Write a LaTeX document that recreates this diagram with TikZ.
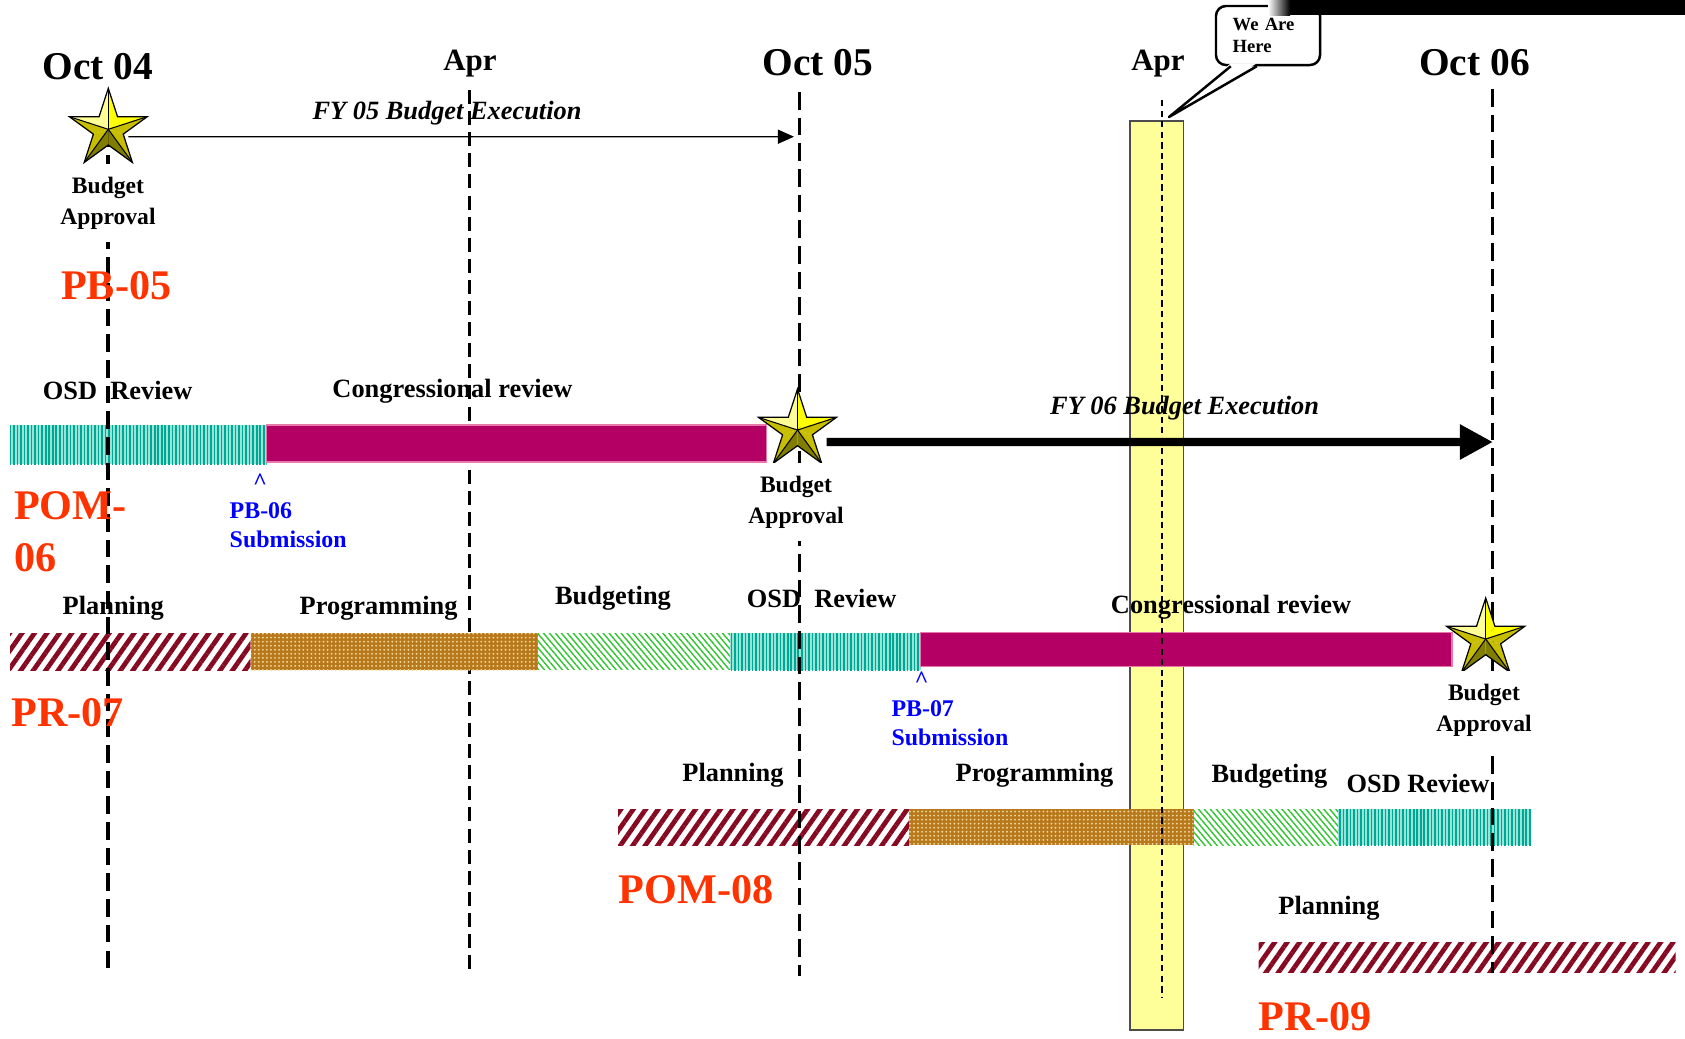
\documentclass[tikz,border=0pt]{standalone}
\usepackage{fontspec}
\setmainfont{Liberation Serif}
\usepackage{tikz}
\usetikzlibrary{arrows.meta}
\usetikzlibrary{shapes.geometric}
\usetikzlibrary{patterns.meta}

\definecolor{pomred}{RGB}{255,51,0}
\definecolor{congr}{RGB}{180,0,100}
\definecolor{congredge}{RGB}{230,120,170}
\definecolor{osdlight}{RGB}{150,228,218}
\definecolor{osddark}{RGB}{0,168,148}
\definecolor{plancol}{RGB}{135,10,35}
\definecolor{progcol}{RGB}{184,120,28}
\definecolor{progdot}{RGB}{240,214,150}
\definecolor{budgcol}{RGB}{50,195,50}
\definecolor{nowcol}{RGB}{255,255,153}
\definecolor{starhi}{RGB}{255,255,150}
\definecolor{staryel}{RGB}{255,255,0}
\definecolor{starmid}{RGB}{200,190,0}
\definecolor{starlo}{RGB}{128,125,0}

\begin{document}
\begin{tikzpicture}[x=0.01cm, y=-0.01cm,
month/.style={font=\fontsize{11.2}{13}\selectfont\bfseries, inner sep=0pt},
half/.style={font=\fontsize{8.8}{10}\selectfont\bfseries, inner sep=0pt},
phase/.style={font=\fontsize{7.5}{9}\selectfont\bfseries, inner sep=0pt},
doc/.style={font=\fontsize{12}{14.65}\selectfont\bfseries, text=pomred, inner sep=0pt, align=left},
fy/.style={font=\fontsize{7.5}{9}\selectfont\bfseries\itshape, inner sep=0pt},
approval/.style={font=\fontsize{6.7}{8.8}\selectfont\bfseries, align=center, fill=white, inner xsep=0pt, inner ysep=0.13cm},
subm/.style={font=\fontsize{6.8}{8.25}\selectfont\bfseries, text=blue, align=left, inner sep=0pt},
octline/.style={line width=0.9pt, dash pattern=on 5pt off 2.3pt},
aprline/.style={line width=0.85pt, dash pattern=on 4pt off 2pt},
nowline/.style={line width=0.35pt, dash pattern=on 1.8pt off 1.2pt},
nowbox/.style={fill=nowcol, draw=gray!60!black, line width=0.45pt},
osdbar/.style={fill=osdlight, postaction={pattern={Lines[angle=90,distance=1pt,line width=0.45pt]}, pattern color=osddark}},
congbar/.style={fill=congr, draw=congredge, line width=0.3pt},
planbar/.style={pattern={Lines[angle=55,distance=2.9pt,line width=1.35pt]}, pattern color=plancol},
progbar/.style={fill=progcol, postaction={pattern={Dots[radius=0.3pt,distance=1.15pt]}, pattern color=progdot}},
budgbar/.style={pattern={Lines[angle=-50,distance=1.3pt,line width=0.4pt]}, pattern color=budgcol},
apstar/.style={star, star points=5, star point ratio=2.618, minimum size=0.82cm, inner sep=0pt,
  draw=black, line width=0.35pt,
  path picture={
    \coordinate (sc) at ([yshift=-0.41cm]path picture bounding box.north);
    \foreach \a/\c in {90/starhi,126/starhi,162/starmid,198/starmid,234/starlo,270/starlo,306/starmid,342/starmid,18/staryel,54/staryel}
      {\fill[\c] (sc) -- +(\a:1cm) -- +(\a+36:1cm) -- cycle;}
    \foreach \a in {18,90,162,234,306}
      {\draw[line width=0.3pt] (sc) -- +(\a:1cm);}
  }},
fythin/.style={line width=0.4pt, -{Triangle[length=4.6pt,width=4pt]}},
fythick/.style={line width=2.4pt, -{Triangle[length=9.4pt,width=9.4pt]}},
herebox/.style={draw, fill=white, rounded corners=0.1cm, line width=0.7pt, minimum width=1.04cm,
  minimum height=0.59cm, text width=0.706cm, align=left, inner sep=0pt,
  font=\fontsize{5.3}{6.15}\selectfont\bfseries}]

%%%%%% SETTINGS %%%%%%%%%%

\useasboundingbox (0,0) rectangle (1685,1038);

\coordinate (oct04t) at (108,129);    \coordinate (oct04b) at (108,976);
\coordinate (apr05t) at (469.5,90);   \coordinate (apr05b) at (469.5,976);
\coordinate (oct05t) at (799.5,92);   \coordinate (oct05b) at (799.5,976);
\coordinate (apr06t) at (1162,100);   \coordinate (apr06b) at (1162,998);
\coordinate (oct06t) at (1492.6,89);  \coordinate (oct06b) at (1492.6,973);
\coordinate (fy05e) at (794,136.7);
\coordinate (fy06e) at (1493,442);
\coordinate (now) at (1169,117);

%%%%%% RAJZ %%%%%%%%%%

\draw[nowbox] (1130,121) rectangle (1183.6,1030);
\draw[aprline] (apr05t) -- (apr05b);

% cycle 06
\path[osdbar] (10,425) rectangle (266.7,464);
\path[congbar] (266.7,425) rectangle (766.5,462);
% cycle 07
\path[planbar] (10,633) rectangle (250.7,670);
\path[progbar] (250.7,633) rectangle (537.7,670);
\path[budgbar] (537.7,633) rectangle (730,669);
\path[osdbar] (730,633) rectangle (920.7,670);
\path[congbar] (920.7,632.7) rectangle (1452,666.7);
% cycle 08
\path[planbar] (618,809.3) rectangle (909.2,845);
\path[progbar] (909.2,809.3) rectangle (1193.5,845);
\path[budgbar] (1193.5,809.3) rectangle (1338.4,845);
\path[osdbar] (1338.4,809.3) rectangle (1531,845);
% cycle 09
\path[planbar] (1258.5,942) rectangle (1675.6,972.7);

\draw[octline] (oct04t) -- (oct04b);
\draw[octline] (oct05t) -- (oct05b);
\draw[octline] (oct06t) -- (oct06b);
\draw[nowline] (apr06t) -- (apr06b);

\node[apstar] (s04) at (108.3,129.3) {};
\node[apstar] (s05) at (797.5,430) {};
\node[apstar] (s06) at (1485.7,639) {};

\node[approval] (ba04) at (108,203) {Budget\\Approval};
\node[approval] (ba05) at (796,502) {Budget\\Approval};
\node[approval] (ba06) at (1484,710) {Budget\\Approval};

\draw[fythin] ([xshift=0.2cm,yshift=-0.074cm]s04.center) -- (fy05e);
\draw[fythick] ([xshift=0.29cm,yshift=-0.12cm]s05.center) -- (fy06e);

%%%%%% LABELS %%%%%%%%%%

\node[month] (moct04) at (98,66.7) {Oct 04};
\node[half] (mapr05) at (470,64) {Apr};
\node[month] (moct05) at (818,62.5) {Oct 05};
\node[half] (mapr06) at (1158,64) {Apr};
\node[month] (moct06) at (1474.5,62.5) {Oct 06};

\node[fy] (fy05) at (447,113) {FY 05 Budget Execution};
\node[fy] (fy06) at (1184.6,408) {FY 06 Budget Execution};

\node[doc] (pb05) at (116.3,286) {PB-05};
\node[doc, anchor=west] (pom06) at (13.4,531.7) {POM-\\06};
\node[doc, anchor=west] (pr07) at (10.7,712.5) {PR-07};
\node[doc] (pom08) at (696,889.5) {POM-08};
\node[doc] (pr09) at (1315,1017) {PR-09};

\node[phase] (osd06) at (117.7,390.5) {OSD\ \ Review};
\node[phase] (cong06) at (452.5,391) {Congressional review};

\node[phase] (plan07) at (113.3,608.3) {Planning};
\node[phase] (prog07) at (378.6,608) {Programming};
\node[phase] (budg07) at (613,598.5) {Budgeting};
\node[phase] (osd07) at (821.6,598) {OSD\ \ Review};
\node[phase] (cong07) at (1231,607.5) {Congressional review};

\node[phase] (plan08) at (733,775) {Planning};
\node[phase] (prog08) at (1034.5,775) {Programming};
\node[phase] (budg08) at (1269.5,775.8) {Budgeting};
\node[phase] (osd08) at (1418,783) {OSD Review};

\node[phase] (plan09) at (1329,908) {Planning};

\node[subm] (car06) at (260,482) {\textasciicircum};
\node[subm, anchor=west] (sub06) at (229,525) {PB-06\\Submission};
\node[subm] (car07) at (921.5,680) {\textasciicircum};
\node[subm, anchor=west] (sub07) at (890.8,723.5) {PB-07\\Submission};

%%%%%% WE ARE HERE %%%%%%%%%%

\node[herebox] (here) at (1268,35.5) {We Are\\Here};
\fill[white] ([xshift=0.16cm,yshift=0.03cm]here.south west) -- (now) -- ([xshift=0.42cm,yshift=0.03cm]here.south west) -- cycle;
\draw[line width=0.7pt, line join=round] ([xshift=0.16cm]here.south west) -- (now) -- ([xshift=0.42cm]here.south west);

\shade[left color=white, right color=black] (1268,0) rectangle (1290,15);
\fill[black] (1290,0) rectangle (1685,15);
\end{tikzpicture}
\end{document}
